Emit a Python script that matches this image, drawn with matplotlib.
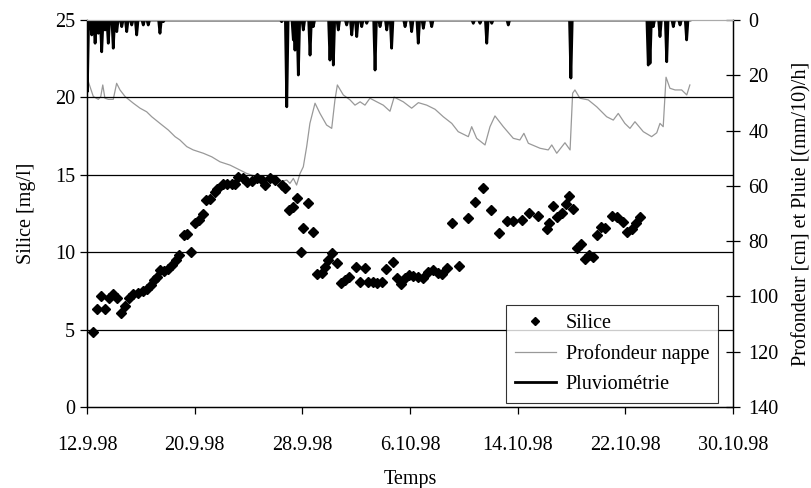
import numpy as np
import matplotlib.pyplot as plt

plt.rcParams['font.family'] = ['Liberation Serif', 'DejaVu Serif']

# x in days since 12.9.98
tick_days = [0, 8, 16, 24, 32, 40, 48]
tick_labels = ['12.9.98', '20.9.98', '28.9.98', '6.10.98', '14.10.98', '22.10.98', '30.10.98']

# silice [mg/l]
silice_days = [0.42, 0.72, 1.06, 1.36, 1.66, 1.91, 2.20, 2.50, 2.80, 3.14,
               3.44, 3.79, 4.13, 4.48, 4.73, 4.97, 5.18, 5.42, 5.72, 6.02,
               6.32, 6.62, 6.86, 7.71, 7.20, 7.41, 8.04, 8.30, 8.59, 8.84,
               9.14, 9.49, 9.68, 10.08, 10.38, 10.75, 11.02, 11.22, 11.61, 11.86,
               12.23, 12.61, 12.98, 13.22, 13.60, 13.97, 14.46, 14.71, 15.03, 15.33,
               15.62, 15.90, 16.07, 16.44, 16.77, 17.07, 17.44, 17.68, 17.93, 18.22,
               18.55, 18.85, 19.17, 19.46, 19.99, 20.29, 20.65, 20.90, 21.23, 21.56,
               21.89, 22.22, 22.71, 23.01, 23.31, 23.63, 23.94, 24.24, 24.62, 24.99,
               25.35, 25.73, 26.10, 26.35, 26.72, 27.10, 27.66, 28.33, 28.82, 29.44,
               29.99, 30.61, 31.18, 31.67, 32.29, 32.86, 33.53, 34.15, 34.35, 34.65,
               34.94, 35.26, 35.59, 35.78, 36.13, 36.38, 36.68, 37.00, 37.31, 37.57,
               37.87, 38.16, 38.48, 38.99, 39.35, 39.84, 40.10, 40.47, 40.79, 41.08]
silice = [4.83, 6.31, 7.19, 6.31, 7.02, 7.30, 7.02, 6.05, 6.52, 7.02,
          7.30, 7.38, 7.51, 7.60, 7.88, 8.20, 8.42, 8.85, 8.79, 8.90,
          9.17, 9.50, 9.82, 10.01, 11.11, 11.18, 11.87, 12.08, 12.47, 13.37,
          13.42, 13.91, 14.06, 14.41, 14.41, 14.41, 14.41, 14.84, 14.77, 14.55,
          14.62, 14.77, 14.66, 14.34, 14.77, 14.66, 14.34, 14.13, 12.73, 12.90,
          13.48, 9.99, 11.58, 13.16, 11.32, 8.59, 8.64, 9.06, 9.50, 9.97,
          9.28, 7.99, 8.20, 8.42, 9.06, 8.09, 8.96, 8.09, 8.09, 7.99,
          8.09, 8.90, 9.39, 8.31, 7.95, 8.31, 8.53, 8.46, 8.42, 8.31,
          8.74, 8.85, 8.68, 8.59, 8.96, 11.91, 9.13, 12.19, 13.26, 14.13,
          12.73, 11.22, 12.02, 12.02, 12.08, 12.51, 12.36, 11.50, 11.87, 12.98,
          12.29, 12.55, 13.11, 13.63, 12.79, 10.25, 10.51, 9.56, 9.82, 9.71,
          11.11, 11.61, 11.58, 12.34, 12.29, 11.97, 11.32, 11.48, 11.91, 12.29]

# water table depth [cm]
nappe_days = [0.02, 0.22, 0.47, 0.84, 1.02, 1.17, 1.33, 1.59, 1.95, 2.20,
              2.45, 2.83, 3.44, 3.94, 4.43, 4.81, 5.42, 6.04, 6.54, 6.90,
              7.41, 7.89, 8.64, 9.27, 9.88, 10.63, 11.37, 11.86, 12.61, 13.34,
              13.84, 14.34, 14.84, 15.08, 15.33, 15.57, 15.83, 16.07, 16.32, 16.56,
              16.94, 17.31, 17.80, 18.18, 18.42, 18.60, 19.04, 19.54, 19.91, 20.29,
              20.65, 21.02, 21.53, 22.01, 22.51, 22.82, 23.50, 24.12, 24.62, 25.24,
              25.86, 26.47, 27.10, 27.58, 28.33, 28.58, 28.95, 29.57, 29.94, 30.31,
              30.93, 31.67, 32.16, 32.46, 32.79, 33.66, 34.27, 34.53, 34.90, 35.51,
              35.89, 36.08, 36.25, 36.62, 37.24, 37.87, 38.61, 39.10, 39.47, 39.96,
              40.34, 40.71, 41.33, 41.95, 42.33, 42.57, 42.81, 43.02, 43.31, 43.69,
              44.18, 44.56, 44.79]
nappe = [21.1, 24.1, 27.7, 28.7, 27.7, 23.5, 28.3, 28.7, 28.7, 22.9,
         25.3, 27.7, 30.1, 31.9, 33.2, 35.0, 37.4, 39.8, 42.2, 43.4,
         45.8, 47.0, 48.2, 49.5, 51.3, 52.5, 54.3, 55.5, 56.7, 57.9,
         58.5, 58.5, 57.9, 59.1, 57.3, 59.7, 55.5, 53.1, 45.8, 37.4,
         30.1, 33.8, 38.0, 39.2, 28.9, 23.5, 27.1, 28.9, 30.8, 29.6,
         30.8, 28.3, 29.6, 30.8, 33.0, 27.9, 29.6, 31.9, 29.9, 30.8,
         32.3, 35.0, 37.4, 40.4, 42.2, 38.6, 42.8, 45.2, 38.6, 34.7,
         38.6, 42.8, 43.4, 41.0, 44.6, 46.4, 47.0, 45.2, 48.2, 44.4,
         47.0, 26.5, 25.3, 28.3, 28.9, 31.4, 35.0, 36.2, 33.8, 37.4,
         39.2, 36.8, 40.4, 42.2, 40.8, 37.4, 38.6, 20.7, 24.7, 25.3,
         25.3, 27.1, 23.5]

# rainfall peaks [(mm/10)/h]
pluie_days = [0.02, 0.35, 0.60, 0.84, 1.09, 1.34, 1.58, 1.95, 2.21, 2.58,
              2.95, 3.32, 3.69, 4.18, 4.55, 5.42, 5.67,
              14.46, 14.84, 15.33, 15.45, 15.70, 16.07, 16.57, 16.81, 18.05, 18.30,
              18.67, 19.29, 19.67, 20.04, 20.41, 20.78, 21.40, 21.77, 22.27, 22.63,
              23.63, 24.12, 24.61, 24.99, 25.61,
              28.70, 29.20, 29.70, 30.07, 31.30,
              35.95,
              41.70, 41.83, 42.07, 42.57, 43.07, 43.56, 44.06, 44.55]
pluie = [25.9, 5.4, 8.4, 4.8, 11.5, 3.6, 8.4, 10.2, 4.2, 2.4,
         4.2, 1.8, 5.4, 1.8, 1.8, 4.8, 0.6,
         0.6, 31.4, 7.2, 10.9, 19.9, 3.6, 12.7, 2.4, 14.5, 16.3,
         3.6, 1.8, 5.4, 6.0, 2.4, 1.2, 18.1, 2.4, 3.6, 10.2,
         2.4, 4.2, 8.4, 3.0, 2.4,
         1.2, 1.2, 8.4, 1.2, 1.8,
         21.0,
         16.3, 15.7, 2.4, 6.0, 15.1, 2.4, 1.8, 7.2]

fig = plt.figure(figsize=(8.11, 4.88), dpi=100)
ax = fig.add_axes([0.1073, 0.166, 0.7966, 0.793])
ax2 = ax.twinx()

# rain drawn as spikes hanging from zero
w = 0.1
rx = [0.0]
ry = [0.0]
for d, v in zip(pluie_days, pluie):
    rx += [d - w, d, d + w]
    ry += [0, v, 0]
rx.append(44.8)
ry.append(0)

ax.set_zorder(1)
ax.patch.set_visible(False)
ax2.plot(nappe_days, nappe, color='#999999', lw=0.9, label='Profondeur nappe')
ax2.plot(rx, ry, color='black', lw=2.0, label='Pluviométrie')
ax.plot(silice_days, silice, 'D', color='black', ms=5, label='Silice')

ax.set_xlim(0, 48)
ax.set_ylim(0, 25)
ax.set_yticks([0, 5, 10, 15, 20, 25])
ax.set_xticks(tick_days)
ax.set_xticklabels(tick_labels)
ax2.set_ylim(140, 0)
ax2.set_yticks(np.arange(0, 141, 20))

for y in [5, 10, 15, 20]:
    ax.axhline(y, color='black', lw=0.9, zorder=0)

fs = 14.5
ax.tick_params(axis='both', labelsize=fs, direction='out', length=5, width=0.9, colors='black')
ax.tick_params(axis='x', pad=16)
ax2.tick_params(axis='y', labelsize=fs, direction='inout', length=10, width=0.9, pad=6)
for a in (ax, ax2):
    a.spines['top'].set_color('#aaaaaa')
    a.spines['top'].set_linewidth(0.8)
    a.spines['left'].set_linewidth(0.9)
    a.spines['right'].set_linewidth(0.9)
    a.spines['bottom'].set_linewidth(0.9)

ax.set_ylabel('Silice [mg/l]', fontsize=fs, labelpad=14)
ax2.set_ylabel('Profondeur [cm] et Pluie [(mm/10)/h]', fontsize=fs, labelpad=10)
ax.set_xlabel('Temps', fontsize=fs, labelpad=11)

h1, l1 = ax.get_legend_handles_labels()
h2, l2 = ax2.get_legend_handles_labels()
leg = ax.legend(h1 + h2, l1 + l2, loc='lower right', bbox_to_anchor=(0.977, 0.01),
                borderaxespad=0, fontsize=fs, frameon=True, fancybox=False,
                edgecolor='black', handlelength=2.0, markerscale=0.8,
                borderpad=0.45, labelspacing=0.55, handletextpad=0.5)
leg.get_frame().set_linewidth(0.8)

fig.savefig('out.png', dpi=100)
